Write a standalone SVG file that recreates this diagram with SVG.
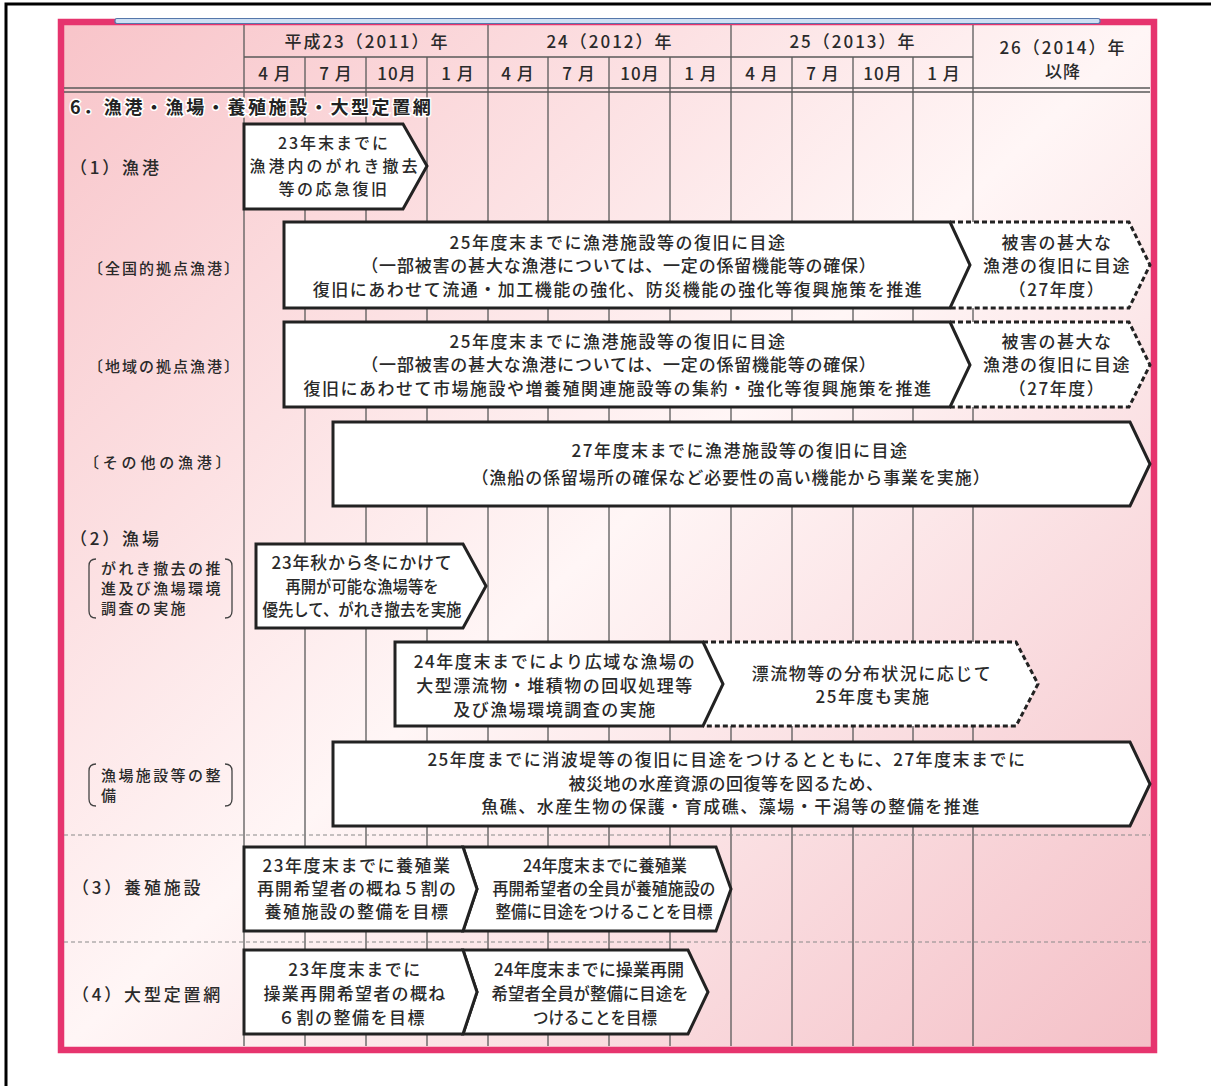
<svg xmlns="http://www.w3.org/2000/svg" width="1211" height="1086" viewBox="0 0 1211 1086">
<style>
text{font-family:"Noto Sans CJK JP","Noto Sans CJK SC",sans-serif;fill:#2a2a2a;font-weight:500;}
.hd{font-size:17px;text-anchor:middle;letter-spacing:1px;}
.yr{font-size:17px;text-anchor:middle;letter-spacing:2px;}
.bt{font-size:17px;text-anchor:middle;letter-spacing:1.5px;}
.cd{font-size:17px;text-anchor:middle;letter-spacing:0px;}
.lb{font-size:17px;letter-spacing:2.8px;}
.sl{font-size:15px;letter-spacing:2px;}
.box{fill:#fff;stroke:#222;stroke-width:3;stroke-linejoin:miter;}
.dbox{fill:none;stroke:#222;stroke-width:3;stroke-dasharray:5 3;}
.fill{fill:#fff;stroke:none;}
.gl{stroke:#5a5a5a;stroke-width:1.3;fill:none;}
.dl{stroke:#8a8a8a;stroke-width:1.2;stroke-dasharray:4 3;fill:none;}
.br{stroke:#444;stroke-width:1.3;fill:none;}
</style>
<defs>
<linearGradient id="bg" x1="0" y1="0" x2="1" y2="1">
<stop offset="0" stop-color="#f8c4c9"/>
<stop offset="0.5" stop-color="#fff6f6"/>
<stop offset="1" stop-color="#f4c0c7"/>
</linearGradient>
</defs>
<rect x="0" y="0" width="1211" height="1086" fill="#fff"/>
<rect x="6" y="4" width="1215" height="1095" fill="none" stroke="#000" stroke-width="3"/>
<rect x="61" y="22" width="1093" height="1028" fill="url(#bg)" stroke="#e6346e" stroke-width="6.5"/>
<rect x="115" y="18.5" width="985" height="5" rx="2" fill="#cddff3" stroke="#5577aa" stroke-width="1.2"/>

<g id="grid">
<path class="gl" d="M244 57H973 M64 88H1150 M64 92H1150"/>
<path class="gl" d="M244 25V1046 M488 25V1046 M731 25V1046 M973 25V1046"/>
<path class="gl" d="M305 57V1046 M366 57V1046 M427 57V1046 M548 57V1046 M609 57V1046 M670 57V1046 M792 57V1046 M853 57V1046 M913 57V1046"/>
<path class="dl" d="M64 835H1150 M64 942H1150"/>
</g>

<g id="header">
<text class="yr" x="367" y="48">平成23（2011）年</text>
<text class="yr" x="610" y="48">24（2012）年</text>
<text class="yr" x="853" y="48">25（2013）年</text>
<text class="yr" x="1063" y="54">26（2014）年</text>
<text class="hd" x="1063" y="78">以降</text>
<text class="hd" x="275" y="80">4 月</text>
<text class="hd" x="336" y="80">7 月</text>
<text class="hd" x="397" y="80">10月</text>
<text class="hd" x="458" y="80">1 月</text>
<text class="hd" x="518" y="80">4 月</text>
<text class="hd" x="579" y="80">7 月</text>
<text class="hd" x="640" y="80">10月</text>
<text class="hd" x="701" y="80">1 月</text>
<text class="hd" x="762" y="80">4 月</text>
<text class="hd" x="823" y="80">7 月</text>
<text class="hd" x="883" y="80">10月</text>
<text class="hd" x="944" y="80">1 月</text>
</g>

<g id="labels">
<text x="70" y="114" style="font-size:18px;font-weight:bold;letter-spacing:2.6px;fill:#222" stroke="#fff" stroke-width="3" paint-order="stroke">6．漁港・漁場・養殖施設・大型定置網</text>
<text class="lb" x="70" y="174">（1）漁港</text>
<text class="sl" x="88" y="274">〔全国的拠点漁港〕</text>
<text class="sl" x="88" y="372">〔地域の拠点漁港〕</text>
<text class="sl" x="84" y="468" style="letter-spacing:3.8px">〔その他の漁港〕</text>
<text class="lb" x="70" y="545">（2）漁場</text>
<path class="br" d="M96 559Q89 559 89 566V611Q89 618 96 618 M225 559Q232 559 232 566V611Q232 618 225 618"/>
<text class="sl" x="101" y="574" style="letter-spacing:2.4px">がれき撤去の推</text>
<text class="sl" x="101" y="594" style="letter-spacing:2.4px">進及び漁場環境</text>
<text class="sl" x="101" y="614" style="letter-spacing:2.4px">調査の実施</text>
<path class="br" d="M96 764Q89 764 89 771V799Q89 806 96 806 M225 764Q232 764 232 771V799Q232 806 225 806"/>
<text class="sl" x="101" y="781" style="letter-spacing:2.4px">漁場施設等の整</text>
<text class="sl" x="101" y="801" style="letter-spacing:2.4px">備</text>
<text class="lb" x="72" y="894">（3）養殖施設</text>
<text class="lb" x="72" y="1001">（4）大型定置網</text>
</g>

<g id="node-gyoko-kyukyu">
<polygon class="box" points="244,124 403,124 427,166 403,209 244,209"/>
<text class="bt" x="334" y="149" style="font-size:16px;letter-spacing:2px">23年末までに</text>
<text class="bt" x="335" y="172" style="font-size:16px;letter-spacing:3px">漁港内のがれき撤去</text>
<text class="bt" x="334" y="195" style="font-size:16px;letter-spacing:2.5px">等の応急復旧</text>
</g>

<g id="node-zenkoku-after">
<polygon class="fill" points="950,222 1129,222 1150,265 1129,308 950,308 970,265"/>
<path class="dbox" d="M950 222H1129L1150 265L1129 308H950"/>
<text class="bt" x="1057" y="249">被害の甚大な</text>
<text class="bt" x="1057" y="272">漁港の復旧に目途</text>
<text class="bt" x="1057" y="296">（27年度）</text>
</g>
<g id="node-zenkoku">
<polygon class="box" points="284,222 950,222 970,265 950,308 284,308"/>
<text class="bt" x="618" y="249">25年度末までに漁港施設等の復旧に目途</text>
<text class="bt" x="619" y="272" style="letter-spacing:0.8px">（一部被害の甚大な漁港については、一定の係留機能等の確保）</text>
<text class="bt" x="618" y="296">復旧にあわせて流通・加工機能の強化、防災機能の強化等復興施策を推進</text>
</g>

<g id="node-chiiki-after">
<polygon class="fill" points="950,322 1129,322 1150,365 1129,407 950,407 970,365"/>
<path class="dbox" d="M950 322H1129L1150 365L1129 407H950"/>
<text class="bt" x="1057" y="348">被害の甚大な</text>
<text class="bt" x="1057" y="371">漁港の復旧に目途</text>
<text class="bt" x="1057" y="395">（27年度）</text>
</g>
<g id="node-chiiki">
<polygon class="box" points="284,322 950,322 970,365 950,407 284,407"/>
<text class="bt" x="618" y="348">25年度末までに漁港施設等の復旧に目途</text>
<text class="bt" x="619" y="371" style="letter-spacing:0.8px">（一部被害の甚大な漁港については、一定の係留機能等の確保）</text>
<text class="bt" x="618" y="395">復旧にあわせて市場施設や増養殖関連施設等の集約・強化等復興施策を推進</text>
</g>

<g id="node-sonota">
<polygon class="box" points="333,422 1130,422 1150,464 1130,506 333,506"/>
<text class="bt" x="740" y="457">27年度末までに漁港施設等の復旧に目途</text>
<text class="bt" x="731" y="484" style="letter-spacing:0.9px">（漁船の係留場所の確保など必要性の高い機能から事業を実施）</text>
</g>

<g id="node-gareki">
<polygon class="box" points="256,544 463,544 486,586 463,628 256,628"/>
<text class="bt" x="362" y="569" style="letter-spacing:0.8px">23年秋から冬にかけて</text>
<text class="cd" x="362" y="593" textLength="153" lengthAdjust="spacingAndGlyphs">再開が可能な漁場等を</text>
<text class="cd" x="362" y="616" textLength="199" lengthAdjust="spacingAndGlyphs">優先して、がれき撤去を実施</text>
</g>

<g id="node-hyoryu-after">
<polygon class="fill" points="703,642 1016,642 1038,684 1016,726 703,726 723,684"/>
<path class="dbox" d="M703 642H1016L1038 684L1016 726H703"/>
<text class="bt" x="872" y="680">漂流物等の分布状況に応じて</text>
<text class="bt" x="873" y="703">25年度も実施</text>
</g>
<g id="node-hyoryu">
<polygon class="box" points="395,642 703,642 723,684 703,726 395,726"/>
<text class="bt" x="555" y="668" style="letter-spacing:1.6px">24年度末までにより広域な漁場の</text>
<text class="bt" x="555" y="692">大型漂流物・堆積物の回収処理等</text>
<text class="bt" x="555" y="716">及び漁場環境調査の実施</text>
</g>

<g id="node-gyojo-shisetsu">
<polygon class="box" points="333,742 1130,742 1150,784 1130,826 333,826"/>
<text class="bt" x="727" y="766">25年度までに消波堤等の復旧に目途をつけるとともに、27年度末までに</text>
<text class="bt" x="726" y="790" style="letter-spacing:0.5px">被災地の水産資源の回復等を図るため、</text>
<text class="bt" x="731" y="813">魚礁、水産生物の保護・育成礁、藻場・干潟等の整備を推進</text>
</g>

<g id="node-yoshoku-24">
<polygon class="box" points="463,847 716,847 731,889 716,931 463,931 477,889"/>
<text class="cd" x="605" y="872" textLength="164" lengthAdjust="spacingAndGlyphs">24年度末までに養殖業</text>
<text class="cd" x="604" y="895" textLength="223" lengthAdjust="spacingAndGlyphs">再開希望者の全員が養殖施設の</text>
<text class="cd" x="604" y="918" textLength="217" lengthAdjust="spacingAndGlyphs">整備に目途をつけることを目標</text>
</g>
<g id="node-yoshoku-23">
<polygon class="box" points="244,847 463,847 477,889 463,931 244,931"/>
<text class="bt" x="357" y="872">23年度末までに養殖業</text>
<text class="bt" x="357" y="895" style="letter-spacing:1.2px">再開希望者の概ね５割の</text>
<text class="bt" x="357" y="918">養殖施設の整備を目標</text>
</g>

<g id="node-teichi-24">
<polygon class="box" points="463,950 688,950 708,992 688,1034 463,1034 477,992"/>
<text class="cd" x="589" y="976" textLength="190" lengthAdjust="spacingAndGlyphs">24年度末までに操業再開</text>
<text class="cd" x="590" y="1000" textLength="197" lengthAdjust="spacingAndGlyphs">希望者全員が整備に目途を</text>
<text class="cd" x="595" y="1024" textLength="124" lengthAdjust="spacingAndGlyphs">つけることを目標</text>
</g>
<g id="node-teichi-23">
<polygon class="box" points="244,950 463,950 477,992 463,1034 244,1034"/>
<text class="bt" x="355" y="976">23年度末までに</text>
<text class="bt" x="355" y="1000" style="letter-spacing:1.3px">操業再開希望者の概ね</text>
<text class="bt" x="352" y="1024">６割の整備を目標</text>
</g>

<g id="connectors"></g>
</svg>
